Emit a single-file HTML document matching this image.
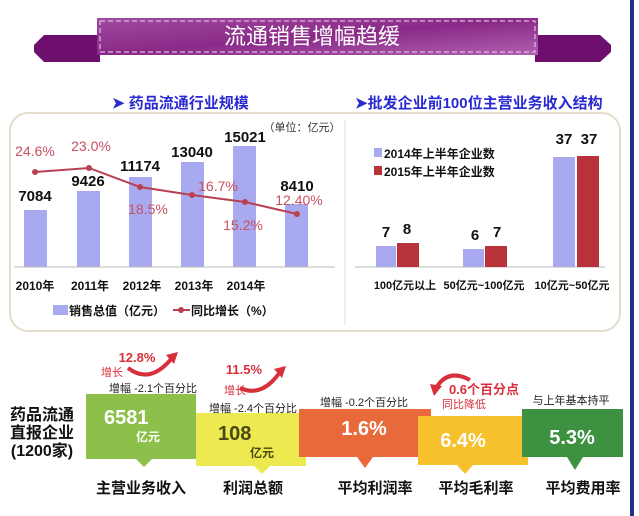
<!DOCTYPE html>
<html><head><meta charset="utf-8"><style>
html,body{margin:0;padding:0;background:#fff;}
svg{display:block;font-family:"Liberation Sans","Noto Sans CJK SC",sans-serif;}
</style></head><body>
<svg width="639" height="516" viewBox="0 0 639 516" xmlns="http://www.w3.org/2000/svg">
<defs>
<linearGradient id="rib" x1="0" y1="0" x2="1" y2="1">
<stop offset="0" stop-color="#a04aa0"/><stop offset="0.5" stop-color="#8a2a88"/><stop offset="1" stop-color="#b060b0"/>
</linearGradient>
</defs>
<rect x="630" y="0" width="4" height="516" fill="#23308a"/>
<!-- banner -->
<path d="M44 35 L100 35 L100 62 L44 62 L34 52 L34 45 Z" fill="#6e0f6e"/>
<path d="M535 35 L600 35 L611 45 L611 52 L600 62 L535 62 Z" fill="#6e0f6e"/>
<rect x="97" y="18" width="441" height="37" fill="url(#rib)"/>
<rect x="100" y="21" width="435" height="31" fill="none" stroke="#f0d8f0" stroke-dasharray="5,3" stroke-width="1"/>
<text x="312" y="44" font-size="22" fill="#fff" text-anchor="middle">流通销售增幅趋缓</text>
<!-- subtitles -->
<text x="112" y="108" font-size="15" font-weight="bold" fill="#2a2ad0">➤ 药品流通行业规模</text>
<text x="355" y="108" font-size="15" font-weight="bold" fill="#2a2ad0">➤批发企业前100位主营业务收入结构</text>
<!-- panel -->
<rect x="10" y="113" width="610" height="218" rx="18" fill="#fff" stroke="#e4dccc" stroke-width="2"/>
<line x1="345" y1="120" x2="345" y2="325" stroke="#ddd" stroke-width="1"/>
<text x="302" y="131" font-size="11" fill="#333" text-anchor="middle">（单位：亿元）</text>
<!-- left bars -->
<g fill="#a9a9ef">
<rect x="24" y="210" width="23" height="57"/>
<rect x="77" y="191" width="23" height="76"/>
<rect x="129" y="177" width="23" height="90"/>
<rect x="181" y="162" width="23" height="105"/>
<rect x="233" y="146" width="23" height="121"/>
<rect x="285" y="204" width="23" height="63"/>
</g>
<line x1="14" y1="267" x2="335" y2="267" stroke="#bbb"/>
<g font-size="15" font-weight="bold" fill="#111" text-anchor="middle">
<text x="35" y="201">7084</text><text x="88" y="186">9426</text><text x="140" y="171">11174</text>
<text x="192" y="157">13040</text><text x="245" y="142">15021</text><text x="297" y="191">8410</text>
</g>
<polyline points="35,172 89,168 140,187 192,195 245,202 297,214" fill="none" stroke="#b84050" stroke-width="2"/>
<g fill="#b84050"><circle cx="35" cy="172" r="3"/><circle cx="89" cy="168" r="3"/><circle cx="140" cy="187" r="3"/><circle cx="192" cy="195" r="3"/><circle cx="245" cy="202" r="3"/><circle cx="297" cy="214" r="3"/></g>
<g font-size="14" fill="#c85060" text-anchor="middle">
<text x="35" y="156">24.6%</text><text x="91" y="151">23.0%</text><text x="148" y="214">18.5%</text>
<text x="218" y="191">16.7%</text><text x="243" y="230">15.2%</text><text x="299" y="205">12.40%</text>
</g>
<g font-size="12" font-weight="bold" fill="#111" text-anchor="middle">
<text x="35" y="290">2010年</text><text x="90" y="290">2011年</text><text x="142" y="290">2012年</text><text x="194" y="290">2013年</text><text x="246" y="290">2014年</text>
</g>
<rect x="53" y="305" width="15" height="10" fill="#a9a9ef"/>
<text x="69" y="315" font-size="12" font-weight="bold" fill="#111">销售总值（亿元）</text>
<line x1="173" y1="310" x2="190" y2="310" stroke="#b84050" stroke-width="2"/><circle cx="181" cy="310" r="3" fill="#b84050"/>
<text x="191" y="315" font-size="12" font-weight="bold" fill="#111">同比增长（%）</text>
<!-- right bars -->
<line x1="355" y1="267" x2="605" y2="267" stroke="#bbb"/>
<g fill="#a9a9ef"><rect x="376" y="246" width="20" height="21"/><rect x="463" y="249" width="21" height="18"/><rect x="553" y="157" width="22" height="110"/></g>
<g fill="#b8323c"><rect x="397" y="243" width="22" height="24"/><rect x="485" y="246" width="22" height="21"/><rect x="577" y="156" width="22" height="111"/></g>
<g font-size="15" font-weight="bold" fill="#111" text-anchor="middle">
<text x="386" y="237">7</text><text x="407" y="234">8</text><text x="475" y="240">6</text><text x="497" y="237">7</text><text x="564" y="144">37</text><text x="589" y="144">37</text>
</g>
<rect x="374" y="148" width="8" height="9" fill="#a9a9ef"/><text x="384" y="158" font-size="12" font-weight="bold" fill="#111">2014年上半年企业数</text>
<rect x="374" y="166" width="8" height="9" fill="#b8323c"/><text x="384" y="176" font-size="12" font-weight="bold" fill="#111">2015年上半年企业数</text>
<g font-size="11" font-weight="bold" fill="#111" text-anchor="middle">
<text x="405" y="289">100亿元以上</text><text x="484" y="289">50亿元~100亿元</text><text x="572" y="289">10亿元~50亿元</text>
</g>
<!-- bottom -->
<g font-size="16" font-weight="bold" fill="#111" text-anchor="middle">
<text x="42" y="420">药品流通</text><text x="42" y="438">直报企业</text><text x="42" y="456">(1200家)</text>
</g>
<path d="M86 394 H196 V459 H152 L144 467 L136 459 H86 Z" fill="#8cc04a"/>
<path d="M196 413 H306 V466 H270 L262 474 L254 466 H196 Z" fill="#ecea50"/>
<path d="M299 409 H431 V457 H373 L365 468 L357 457 H299 Z" fill="#e8693a"/>
<path d="M418 416 H528 V465 H473 L465 474 L457 465 H418 Z" fill="#f6c12d"/>
<path d="M522 409 H623 V457 H583 L575 470 L567 457 H522 Z" fill="#3d9140"/>
<text x="104" y="424" font-size="20" font-weight="bold" fill="#fff">6581</text>
<text x="136" y="441" font-size="12" font-weight="bold" fill="#fff">亿元</text>
<text x="218" y="440" font-size="20" font-weight="bold" fill="#4a4a10">108</text>
<text x="250" y="457" font-size="12" font-weight="bold" fill="#4a4a10">亿元</text>
<g font-size="20" font-weight="bold" fill="#fff" text-anchor="middle">
<text x="364" y="435">1.6%</text><text x="463" y="447">6.4%</text><text x="572" y="444">5.3%</text>
</g>
<g font-size="15" font-weight="bold" fill="#111" text-anchor="middle">
<text x="141" y="493">主营业务收入</text><text x="253" y="493">利润总额</text><text x="375" y="493">平均利润率</text><text x="476" y="493">平均毛利率</text><text x="583" y="493">平均费用率</text>
</g>
<g font-size="11" fill="#222" text-anchor="middle">
<text x="153" y="392">增幅 -2.1个百分比</text><text x="253" y="412">增幅 -2.4个百分比</text><text x="364" y="406">增幅 -0.2个百分比</text><text x="571" y="404">与上年基本持平</text>
</g>
<text x="137" y="362" font-size="13" font-weight="bold" fill="#d8303a" text-anchor="middle">12.8%</text>
<text x="101" y="376" font-size="11" fill="#d8303a">增长</text>
<path d="M128 368 Q150 385 172 358" fill="none" stroke="#d8303a" stroke-width="4"/><path d="M166 355 L178 352 L174 364 Z" fill="#d8303a"/>
<text x="244" y="374" font-size="13" font-weight="bold" fill="#d8303a" text-anchor="middle">11.5%</text>
<text x="224" y="394" font-size="11" fill="#d8303a">增长</text>
<path d="M240 388 Q262 398 280 372" fill="none" stroke="#d8303a" stroke-width="4"/><path d="M274 369 L286 366 L282 378 Z" fill="#d8303a"/>
<text x="484" y="394" font-size="13" font-weight="bold" fill="#d8303a" text-anchor="middle">0.6个百分点</text>
<text x="464" y="408" font-size="11" fill="#d8303a" text-anchor="middle">同比降低</text>
<path d="M470 380 Q448 368 436 388" fill="none" stroke="#d8303a" stroke-width="4"/><path d="M430 384 L442 386 L434 396 Z" fill="#d8303a"/>
</svg>
</body></html>
